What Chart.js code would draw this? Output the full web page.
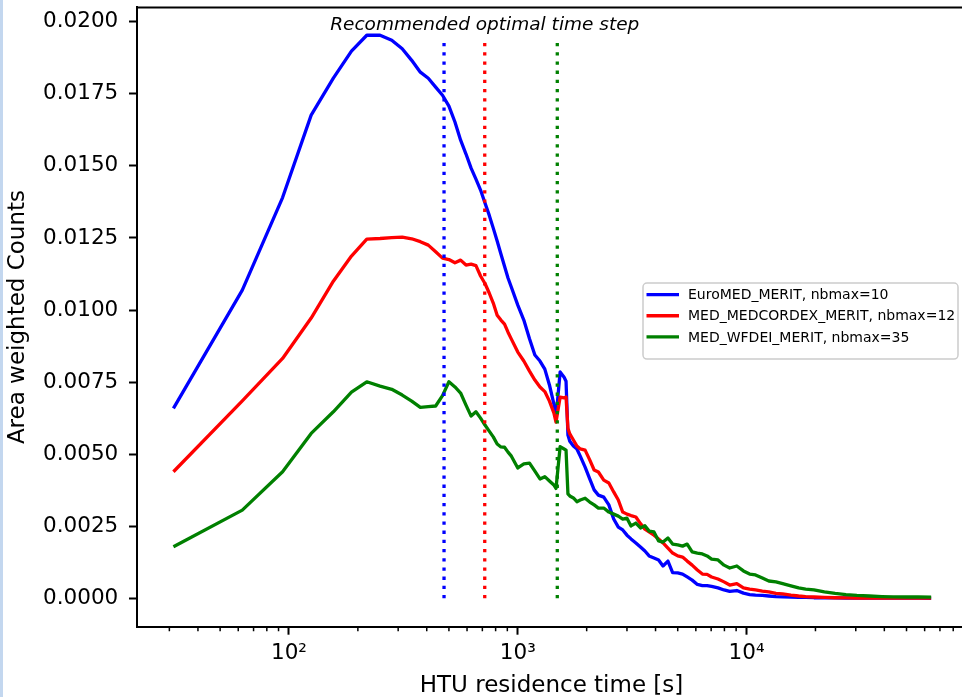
<!DOCTYPE html>
<html><head><meta charset="utf-8">
<script src="https://cdn.jsdelivr.net/npm/chart.js@4.4.1/dist/chart.umd.min.js"></script>
<style>
html,body{margin:0;padding:0;background:#fff;overflow:hidden;width:962px;height:697px}
#wrap{position:relative;width:970px;height:697px}
#strip{position:absolute;left:0;top:0;width:3px;height:697px;background:#c3d7ef}
canvas{display:block}
</style></head><body>
<div id="wrap"><canvas id="c" width="970" height="697" style="width:970px;height:697px"></canvas><div id="strip"></div></div>
<script>
// residence time bins [s]
const times = [31.25,62.5,93.75,125,156.25,187.5,218.75,250,281.25,312.5,
343.75,375,406.25,437.5,468.75,500,531.25,562.5,593.75,625,
656.25,687.5,718.75,750,781.25,812.5,843.75,875,906.25,937.5,
1000,1062.5,1125,1187.5,1250,1312.5,1375,1437.5,1468.75,
1531.25,1593.75,1625,1656.25,1687.5,1750,1812.5,1875,
1968.75,2062.5,2156.25,2250,2375,2500,2625,2750,2875,3000,3125,
3281.25,3437.5,3593.75,3750,3937.5,4125,4312.5,4531.25,4750,5000,5250,5500,5781.25,6093.75,
6406.25,6718.75,7031.25,7500,7968.75,8437.5,9062.5,9687.5,10312.5,10937.5,11718.75,12500,13437.5,14375,15625,
16875,18125,19687.5,21875,24375,27187.5,30312.5,34375,39062.5,43750,50000,56250,64062.5];

const euroMed = [0.00659,0.01069,0.01390,0.01676,0.01804,0.01898,0.01953,0.01953,0.01936,0.01906,
0.01866,0.01825,0.01804,0.01773,0.01745,0.01707,0.01652,0.01589,0.01541,0.01492,
0.01454,0.01416,0.01371,0.01329,0.01284,0.01239,0.01194,0.01152,0.01111,0.01079,
0.01017,0.00965,0.00900,0.00844,0.00823,0.00795,0.00740,0.00674,0.00625,
0.00785,0.00767,0.00753,0.00566,0.00545,0.00528,0.00518,0.00493,
0.00455,0.00414,0.00376,0.00358,0.00351,0.00324,0.00275,0.00247,0.00237,0.00219,0.00206,
0.00192,0.00178,0.00164,0.00147,0.00140,0.00133,0.00112,0.00129,0.00089,0.00088,0.00084,0.00074,0.00063,0.00048,
0.00044,0.00044,0.00041,0.00036,0.00029,0.00024,0.00027,0.00018,0.00013,0.00011,0.00010,0.00008,0.00006,0.00005,0.000045,
0.000035,0.00003,0.00002,0.000017,0.000012,0.00001,0.000008,0.000006,0.000005,0.000004,0.000003,0.000003,0.000002];

const medCordex = [0.00439,0.00685,0.00832,0.00972,0.01100,0.01187,0.01246,0.01248,0.01251,0.01253,
0.01247,0.01237,0.01225,0.01202,0.01180,0.01175,0.01164,0.01173,0.01156,0.01159,
0.01154,0.01118,0.01092,0.01059,0.01024,0.00982,0.00965,0.00951,0.00923,0.00899,
0.00854,0.00823,0.00788,0.00757,0.00733,0.00717,0.00684,0.00643,0.00611,
0.00698,0.00695,0.00698,0.00590,0.00570,0.00549,0.00528,0.00518,
0.00514,0.00480,0.00445,0.00438,0.00410,0.00400,0.00369,0.00341,0.00299,0.00292,0.00287,
0.00282,0.00259,0.00240,0.00230,0.00219,0.00206,0.00192,0.00174,0.00157,0.00147,0.00143,0.00129,0.00115,0.00098,
0.00084,0.00083,0.00074,0.00067,0.00057,0.00046,0.00051,0.00036,0.00032,0.00029,0.00025,0.00022,0.00017,0.00015,0.00011,
0.00008,0.00006,0.000045,0.00003,0.00002,0.000015,0.00001,0.000008,0.000006,0.000005,0.000004,0.000003,0.000003];

const medWfdei = [0.00179,0.00306,0.00439,0.00572,0.00647,0.00715,0.00751,0.00736,0.00725,0.00705,
0.00684,0.00662,0.00665,0.00667,0.00703,0.00751,0.00733,0.00712,0.00670,0.00632,
0.00647,0.00625,0.00601,0.00580,0.00560,0.00535,0.00525,0.00524,0.00507,0.00493,
0.00452,0.00466,0.00469,0.00441,0.00414,0.00422,0.00407,0.00393,0.00381,
0.00526,0.00518,0.00514,0.00362,0.00355,0.00348,0.00335,0.00341,
0.00347,0.00334,0.00324,0.00313,0.00313,0.00299,0.00292,0.00285,0.00275,0.00278,0.00251,
0.00261,0.00244,0.00252,0.00233,0.00230,0.00199,0.00195,0.00209,0.00188,0.00185,0.00181,0.00188,0.00161,0.00157,
0.00154,0.00147,0.00136,0.00133,0.00115,0.00105,0.00112,0.00095,0.00084,0.00081,0.00070,0.00060,0.00057,0.00051,0.00043,
0.00036,0.00032,0.00029,0.00022,0.00017,0.00013,0.00010,0.00008,0.00006,0.00005,0.000045,0.000045,0.00004];

const seriesLabels = ['EuroMED_MERIT, nbmax=10','MED_MEDCORDEX_MERIT, nbmax=12','MED_WFDEI_MERIT, nbmax=35'];
const seriesColors = ['#0000ff','#ff0000','#008000'];

// recommended optimal time steps (dotted vertical lines)
const optimalSteps = [476, 717, 1488];
const optimalTop = 0.01936;
const annotationText = 'Recommended optimal time step';
const annotationAt = [717, 0.01971];

const yTicks = [0,0.0025,0.005,0.0075,0.01,0.0125,0.015,0.0175,0.02];
const yTickLabels = ['0.0000','0.0025','0.0050','0.0075','0.0100','0.0125','0.0150','0.0175','0.0200'];
const xMajorTicks = [100,1000,10000];
const xMajorLabels = ['10\u00B2','10\u00B3','10\u2074'];
const xMinorTicks = [30,40,50,60,70,80,90,200,300,400,500,600,700,800,900,
  2000,3000,4000,5000,6000,7000,8000,9000,20000,30000,40000,50000,60000,70000,80000,90000];
const xLimits = [21.66, 90980];
const yLimits = [-0.000985, 0.020496];

const FONT = "'DejaVu Sans', sans-serif";
Chart.defaults.font.family = FONT;
Chart.defaults.color = '#000';

const curves = [euroMed, medCordex, medWfdei].map((vals, i) => ({
  label: seriesLabels[i],
  data: times.map((t, j) => ({x: t, y: vals[j]})),
  borderColor: seriesColors[i], backgroundColor: seriesColors[i],
  borderWidth: 3.3, pointRadius: 0, tension: 0, fill: false,
  borderJoinStyle: 'round', order: 3 - i
}));
const markers = optimalSteps.map((t, i) => ({
  label: 'optimal ' + i,
  data: [{x: t, y: 0}, {x: t, y: optimalTop}],
  borderColor: seriesColors[i], borderWidth: 3.3, borderDash: [3.3, 5.9],
  borderCapStyle: 'butt', pointRadius: 0, tension: 0, fill: false, order: 0
}));

const decor = {
  id: 'decor',
  afterDraw(chart) {
    const {ctx, chartArea: ca, scales: {x, y}} = chart;
    ctx.save();
    // top spine
    ctx.strokeStyle = '#000'; ctx.lineWidth = 2;
    ctx.beginPath(); ctx.moveTo(ca.left - 1, ca.top); ctx.lineTo(ca.right + 1, ca.top);
    ctx.moveTo(ca.right, ca.top); ctx.lineTo(ca.right, ca.bottom); ctx.stroke();
    // minor ticks
    ctx.lineWidth = 1.5; ctx.beginPath();
    xMinorTicks.forEach(v => { const px = x.getPixelForValue(v); ctx.moveTo(px, ca.bottom); ctx.lineTo(px, ca.bottom + 4.5); });
    ctx.stroke();
    // annotation text
    ctx.fillStyle = '#000'; ctx.font = "italic 18.5px " + FONT;
    ctx.textAlign = 'center'; ctx.textBaseline = 'alphabetic';
    ctx.fillText(annotationText, x.getPixelForValue(annotationAt[0]), y.getPixelForValue(annotationAt[1]));
    // legend
    const bw = 315, bh = 76;
    const bx = ca.right - 8 - bw;
    const by = (ca.top + ca.bottom) / 2 + 4 - bh / 2;
    ctx.beginPath();
    if (ctx.roundRect) ctx.roundRect(bx, by, bw, bh, 4); else ctx.rect(bx, by, bw, bh);
    ctx.fillStyle = 'rgba(255,255,255,0.85)'; ctx.fill();
    ctx.strokeStyle = '#cccccc'; ctx.lineWidth = 1.5; ctx.stroke();
    ctx.font = "14px " + FONT; ctx.textAlign = 'left'; ctx.textBaseline = 'middle';
    chart.data.datasets.slice(0, 3).forEach((ds, i) => {
      const ry = by + 11.5 + i * 21.2;
      ctx.strokeStyle = ds.borderColor; ctx.lineWidth = 3.3;
      ctx.beginPath(); ctx.moveTo(bx + 3.5, ry); ctx.lineTo(bx + 36, ry); ctx.stroke();
      ctx.fillStyle = '#000'; ctx.fillText(ds.label, bx + 45, ry + 1);
    });
    ctx.restore();
  }
};

new Chart(document.getElementById('c'), {
  type: 'line',
  data: {datasets: [...curves, ...markers]},
  options: {
    responsive: false, animation: false, devicePixelRatio: 1,
    layout: {padding: {left: 0, top: 7.4, right: 4, bottom: 0}},
    plugins: {legend: {display: false}, tooltip: {enabled: false}},
    scales: {
      x: {
        type: 'logarithmic', min: xLimits[0], max: xLimits[1],
        afterBuildTicks: s => { s.ticks = xMajorTicks.map(v => ({value: v})); },
        afterFit: s => { s.height = 70.3; s.paddingLeft = 0; s.paddingRight = 0; s.paddingTop = 0; s.paddingBottom = 0; },
        ticks: {autoSkip: false, maxRotation: 0, minRotation: 0, padding: 6, font: {size: 21.5}, color: '#000',
          callback: (v, i) => xMajorLabels[i]},
        grid: {display: true, drawOnChartArea: false, drawTicks: true, tickLength: 8, tickWidth: 2, tickColor: '#000'},
        border: {display: true, color: '#000', width: 2},
        title: {display: true, text: 'HTU residence time [s]', color: '#000',
          font: {size: 23, lineHeight: 0.913}, padding: {top: 0, bottom: 0}}
      },
      y: {
        type: 'linear', min: yLimits[0], max: yLimits[1],
        afterBuildTicks: s => { s.ticks = yTicks.map(v => ({value: v})); },
        afterFit: s => { s.width = 137; s.paddingLeft = 0; s.paddingRight = 0; s.paddingTop = 0; s.paddingBottom = 0; },
        ticks: {autoSkip: false, padding: 10.7, font: {size: 21.5}, color: '#000',
          callback: (v, i) => yTickLabels[i]},
        grid: {display: true, drawOnChartArea: false, drawTicks: true, tickLength: 8, tickWidth: 2, tickColor: '#000'},
        border: {display: true, color: '#000', width: 2},
        title: {display: true, text: 'Area weighted Counts', color: '#000',
          font: {size: 23, lineHeight: 1.2}, padding: {top: 4.4, bottom: 0}}
      }
    }
  },
  plugins: [decor]
});
</script></body></html>
